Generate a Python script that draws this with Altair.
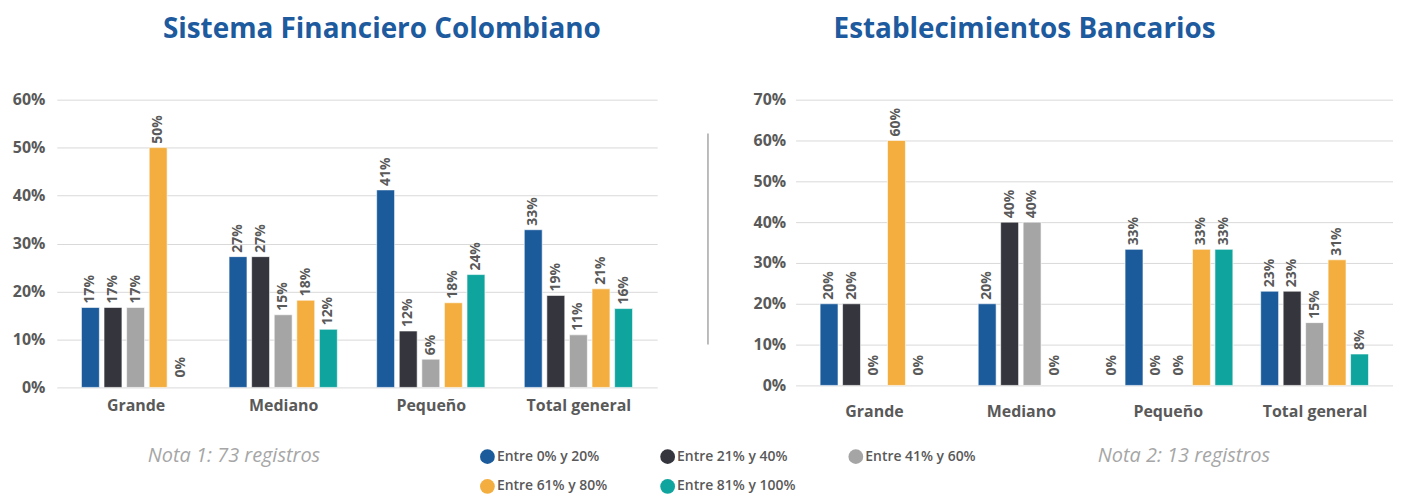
import json
import altair as alt
import pandas as pd

FONT = "Open Sans"
GRAY = "#595959"

series = ["Entre 0% y 20%", "Entre 21% y 40%", "Entre 41% y 60%",
          "Entre 61% y 80%", "Entre 81% y 100%"]
colors = ["#1B5A9B", "#34353D", "#A5A5A5", "#F3AE3F", "#0FA59E"]
categories = ["Grande", "Mediano", "Pequeño", "Total general"]

# Sistema Financiero Colombiano (73 registros)
sfc_series = [[0, 1, 2, 3, 4], [0, 1, 2, 3, 4], [0, 1, 2, 3, 4], [0, 1, 2, 3, 4]]
sfc_grande = [0.1667, 0.1667, 0.1667, 0.50, 0.0]
sfc_mediano = [0.2727, 0.2727, 0.1515, 0.1818, 0.1212]
sfc_pequeno = [0.4118, 0.1176, 0.0588, 0.1765, 0.2353]
sfc_total = [0.3288, 0.1918, 0.1096, 0.2055, 0.1644]

# Establecimientos Bancarios (13 registros)
eb_series = [[0, 1, 2, 3, 4], [0, 1, 2, 3], [0, 0, 1, 2, 3, 4], [0, 1, 2, 3, 4]]
eb_grande = [0.20, 0.20, 0.0, 0.60, 0.0]
eb_mediano = [0.20, 0.40, 0.40, 0.0]
eb_pequeno = [0.0, 0.3333, 0.0, 0.0, 0.3333, 0.3333]
eb_total = [0.2308, 0.2308, 0.1538, 0.3077, 0.0769]

y_ticks_left = [0, 0.1, 0.2, 0.3, 0.4, 0.5, 0.6]
y_ticks_right = [0, 0.1, 0.2, 0.3, 0.4, 0.5, 0.6, 0.7]

PITCH = 0.153  # bar pitch as a fraction of a category step


def build(series_idx, groups):
    rows = []
    for gi, (sidx, vals) in enumerate(zip(series_idx, groups)):
        n = len(vals)
        for si, (s, v) in enumerate(zip(sidx, vals)):
            rows.append({"cat": categories[gi], "series": series[s], "value": v,
                         "pos": gi + (si - (n - 1) / 2) * PITCH})
    return pd.DataFrame(rows)


left_df = build(sfc_series, [sfc_grande, sfc_mediano, sfc_pequeno, sfc_total])
right_df = build(eb_series, [eb_grande, eb_mediano, eb_pequeno, eb_total])

label_expr = json.dumps(categories, ensure_ascii=False) + "[datum.value]"

legend = alt.Legend(orient="none", legendX=425, legendY=351, direction="horizontal",
                    columns=3, symbolType="circle", symbolSize=220, symbolStrokeWidth=0,
                    labelFont=FONT, labelFontSize=14, labelFontWeight=600,
                    labelColor=GRAY, title=None, columnPadding=53, rowPadding=15,
                    labelOffset=2)


def panel(df, ymax, ticks, height, width, title, title_dx, xpad, yext, ypad,
          note, note_x, note_y, extra=None):
    x = alt.X("pos:Q", scale=alt.Scale(domain=[-0.5, 3.5], nice=False, zero=False),
              axis=alt.Axis(values=[0, 1, 2, 3], labelExpr=label_expr, grid=False,
                            ticks=False, domain=False, labelPadding=xpad,
                            labelFont=FONT, labelFontSize=16, labelFontWeight="bold",
                            labelColor=GRAY, title=None, labelFlush=False))
    y = alt.Y("value:Q", scale=alt.Scale(domain=[0, ymax], nice=False),
              axis=alt.Axis(values=ticks, format=".0%", grid=True, gridColor="#D9D9D9",
                            domain=False, ticks=False, labelPadding=ypad,
                            labelFont=FONT, labelFontSize=16, labelFontWeight="bold",
                            labelColor=GRAY, title=None, minExtent=yext, maxExtent=yext))
    base = alt.Chart(df)
    bars = base.mark_bar(width=18, stroke="white", strokeWidth=0.6).encode(
        x=x, y=y,
        color=alt.Color("series:N", scale=alt.Scale(domain=series, range=colors),
                        legend=legend),
    ).transform_filter("datum.value > 0")
    txt = dict(angle=270, align="left", baseline="middle", font=FONT, fontSize=14,
               fontWeight="bold", color=GRAY)
    labels = base.mark_text(dx=4, **txt).encode(
        x="pos:Q", y="value:Q", text=alt.Text("value:Q", format=".0%")
    ).transform_filter("datum.value > 0")
    zeros = base.mark_text(dx=10, **txt).encode(
        x="pos:Q", y="value:Q", text=alt.Text("value:Q", format=".0%")
    ).transform_filter("datum.value <= 0")
    note_mark = alt.Chart(pd.DataFrame({"t": [note]})).mark_text(
        font=FONT, fontSize=20, fontStyle="italic", color="#A6A6A6",
        align="center", baseline="middle").encode(
        text="t:N", x=alt.value(note_x), y=alt.value(note_y))
    layers = [bars, labels, zeros, note_mark]
    if extra is not None:
        layers.append(extra)
    return alt.layer(*layers).properties(
        width=width, height=height,
        title=alt.TitleParams(title, font=FONT, fontSize=28, fontWeight="bold",
                              color="#1D5A9E", anchor="middle", frame="group",
                              dx=title_dx, offset=48))


sep = alt.Chart(pd.DataFrame({"a": [0]})).mark_rule(color="#A6A6A6", strokeWidth=1.5).encode(
    x=alt.value(-88), y=alt.value(34), y2=alt.value(246))

left = panel(left_df, 0.6, y_ticks_left, 289, 603, "Sistema Financiero Colombiano",
             25, 10, 49, 12, "Nota 1: 73 registros", 178, 358)
right = panel(right_df, 0.7, y_ticks_right, 287, 600, "Establecimientos Bancarios",
              -70, 18, 46, 10, "Nota 2: 13 registros", 390, 358, extra=sep)

chart = alt.hconcat(left, right, spacing=50).properties(
    padding={"left": 0, "top": 7, "right": 0, "bottom": 0}
).configure_view(stroke=None)

chart.save("out.html", embed_options={"renderer": "svg", "actions": False})
